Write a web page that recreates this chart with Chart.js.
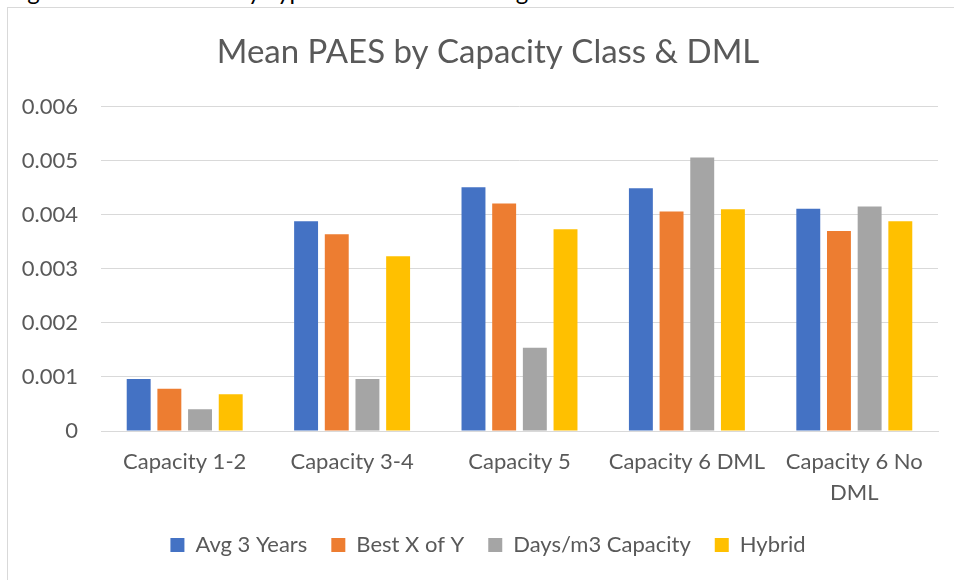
<!DOCTYPE html>
<html>
<head>
<meta charset="utf-8">
<script src="https://cdn.jsdelivr.net/npm/chart.js@4.4.1/dist/chart.umd.min.js"></script>
<style>
  html, body { margin:0; padding:0; background:#fff; overflow:hidden; width:954px; height:580px; }
  #caption { position:absolute; left:8px; top:-24px; font:24px Lato, "Open Sans", sans-serif; color:#000; white-space:nowrap; }
  #frame { position:absolute; left:7px; top:7px; width:1000px; height:620px; border:1px solid #d9d9d9; background:#fff; }
  #mddWrap { position:absolute; left:8px; top:8px; }
</style>
</head>
<body>
<div id="caption">Figure 5: Mean PAES by Type of Modelled Setting</div>
<div id="frame"></div>
<div id="mddWrap"><canvas id="paesChart" width="960" height="572"></canvas></div>
<script>
"use strict";
const FONT = "Lato, 'Open Sans', sans-serif";
const TEXT = "#595959";

const categories = ["Capacity 1-2", "Capacity 3-4", "Capacity 5", "Capacity 6 DML", ["Capacity 6 No", "DML"]];
const seriesNames = ["Avg 3 Years", "Best X of Y", "Days/m3 Capacity", "Hybrid"];
const seriesColors = ["#4472C4", "#ED7D31", "#A5A5A5", "#FFC000"];
const avg3Years   = [0.00096, 0.00388, 0.00451, 0.00449, 0.00411];
const bestXofY    = [0.00078, 0.00364, 0.00421, 0.00406, 0.00370];
const daysPerM3   = [0.00040, 0.00096, 0.00154, 0.00506, 0.00415];
const hybrid      = [0.00068, 0.00323, 0.00373, 0.00410, 0.00388];
const yTicks = ["0", "0.001", "0.002", "0.003", "0.004", "0.005", "0.006"];

const seriesValues = [avg3Years, bestXofY, daysPerM3, hybrid];

new Chart(document.getElementById("paesChart").getContext("2d"), {
  type: "bar",
  data: {
    labels: categories,
    datasets: seriesNames.map((name, i) => ({
      label: name,
      data: seriesValues[i],
      backgroundColor: seriesColors[i],
      borderWidth: 0,
      categoryPercentage: 0.733,
      barPercentage: 0.78
    }))
  },
  options: {
    responsive: false,
    devicePixelRatio: 1,
    animation: false,
    layout: { padding: { left: 0, right: 0, top: 0, bottom: 14 } },
    plugins: {
      title: {
        display: true,
        text: "Mean PAES by Capacity Class & DML",
        color: TEXT,
        font: { family: FONT, size: 33, weight: "normal", lineHeight: 1.2 },
        padding: { top: 25, bottom: 34 }
      },
      legend: {
        position: "bottom",
        labels: {
          color: TEXT,
          font: { family: FONT, size: 22 },
          boxWidth: 14,
          boxHeight: 14,
          padding: 24
        }
      },
      tooltip: { enabled: false }
    },
    scales: {
      x: {
        grid: { display: false, drawTicks: false },
        border: { display: true, color: "#d9d9d9", width: 1 },
        ticks: { color: TEXT, font: { family: FONT, size: 22, lineHeight: 1.4 }, padding: 16, maxRotation: 0, autoSkip: false },
        afterFit: s => { s.height = 79; }
      },
      y: {
        min: 0, max: 0.006,
        grid: { color: "#d9d9d9", lineWidth: 1, drawTicks: false },
        border: { display: false },
        ticks: {
          stepSize: 0.001,
          color: TEXT,
          font: { family: FONT, size: 22 },
          padding: 23,
          callback: (v, i) => yTicks[i]
        },
        afterFit: s => { s.width = 93; }
      },
      // empty right-hand axis, only keeps the gap after the plot area
      yRight: {
        position: "right",
        display: true,
        grid: { display: false, drawTicks: false },
        border: { display: false },
        ticks: { display: false },
        afterFit: s => { s.width = 30; }
      }
    }
  }
});
</script>
</body>
</html>
